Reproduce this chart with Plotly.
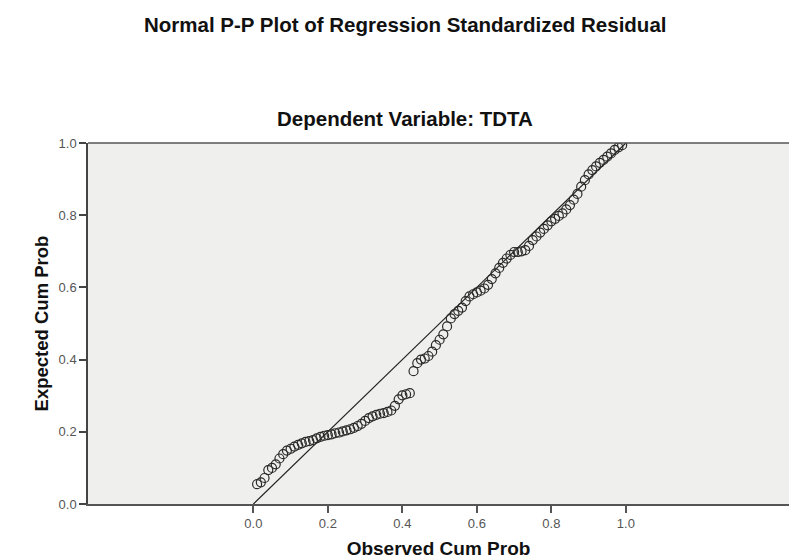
import plotly.graph_objects as go

# Observed cumulative probability (x) and expected cumulative probability (y)
observed_cum_prob = [
    0.01, 0.02, 0.03, 0.04, 0.05, 0.06, 0.07, 0.08, 0.09, 0.10,
    0.11, 0.12, 0.13, 0.14, 0.15, 0.16, 0.17, 0.18, 0.19, 0.20,
    0.21, 0.22, 0.23, 0.24, 0.25, 0.26, 0.27, 0.28, 0.29, 0.30,
    0.31, 0.32, 0.33, 0.34, 0.35, 0.36, 0.37, 0.38, 0.39, 0.40,
    0.41, 0.42, 0.43, 0.44, 0.45, 0.46, 0.47, 0.48, 0.49, 0.50,
    0.51, 0.52, 0.53, 0.54, 0.55, 0.56, 0.57, 0.58, 0.59, 0.60,
    0.61, 0.62, 0.63, 0.64, 0.65, 0.66, 0.67, 0.68, 0.69, 0.70,
    0.71, 0.72, 0.73, 0.74, 0.75, 0.76, 0.77, 0.78, 0.79, 0.80,
    0.81, 0.82, 0.83, 0.84, 0.85, 0.86, 0.87, 0.88, 0.89, 0.90,
    0.91, 0.92, 0.93, 0.94, 0.95, 0.96, 0.97, 0.98, 0.99,
]
expected_cum_prob = [
    0.055, 0.060, 0.072, 0.094, 0.100, 0.110, 0.126, 0.138, 0.148, 0.153,
    0.159, 0.164, 0.168, 0.172, 0.174, 0.177, 0.182, 0.186, 0.189, 0.191,
    0.193, 0.196, 0.198, 0.201, 0.204, 0.207, 0.211, 0.216, 0.222, 0.230,
    0.238, 0.243, 0.247, 0.250, 0.252, 0.255, 0.259, 0.272, 0.290, 0.301,
    0.304, 0.307, 0.368, 0.390, 0.400, 0.403, 0.410, 0.422, 0.440, 0.455,
    0.470, 0.492, 0.514, 0.526, 0.535, 0.544, 0.562, 0.575, 0.581, 0.586,
    0.591, 0.597, 0.607, 0.623, 0.639, 0.654, 0.668, 0.680, 0.690, 0.698,
    0.698, 0.700, 0.703, 0.715, 0.731, 0.741, 0.752, 0.762, 0.772, 0.783,
    0.790, 0.798, 0.805, 0.816, 0.828, 0.843, 0.859, 0.879, 0.897, 0.913,
    0.925, 0.935, 0.945, 0.953, 0.962, 0.971, 0.981, 0.988, 0.994,
]
reference_line_x = [0.0, 1.0]
reference_line_y = [0.0, 1.0]
tick_values = [0.0, 0.2, 0.4, 0.6, 0.8, 1.0]

FONT = "Liberation Sans, Arial, sans-serif"

fig = go.Figure()
fig.add_trace(go.Scatter(
    x=reference_line_x, y=reference_line_y, mode="lines",
    line=dict(color="#222222", width=1.2), hoverinfo="skip", showlegend=False,
))
fig.add_trace(go.Scatter(
    x=observed_cum_prob, y=expected_cum_prob, mode="markers",
    marker=dict(symbol="circle-open", size=9, color="#2a2a2a",
                line=dict(width=1.2, color="#2a2a2a")),
    showlegend=False,
))

fig.update_layout(
    width=789, height=560,
    margin=dict(l=88, r=0, t=143, b=56),
    paper_bgcolor="white",
    plot_bgcolor="#efefed",
    font=dict(family=FONT, color="#222"),
    shapes=[
        dict(type="line", xref="paper", yref="paper", x0=0, x1=1, y0=1, y1=1,
             line=dict(color="#555", width=1.5)),
    ],
    annotations=[
        dict(text="<b>Normal P-P Plot of Regression Standardized Residual</b>",
             xref="paper", yref="paper", x=0.452, y=(504 - 24) / 361,
             xanchor="center", yanchor="middle", showarrow=False,
             font=dict(size=20.5, color="#111", family=FONT)),
        dict(text="<b>Dependent Variable: TDTA</b>",
             xref="paper", yref="paper", x=0.452, y=(504 - 118) / 361,
             xanchor="center", yanchor="middle", showarrow=False,
             font=dict(size=20.5, color="#111", family=FONT)),
    ],
)
fig.update_xaxes(
    range=[-0.444, 1.438], tickvals=tick_values, tickformat=".1f",
    showgrid=False, zeroline=False, automargin=False,
    showline=True, linecolor="#555", linewidth=1.5, mirror=False,
    ticks="outside", ticklen=7, tickwidth=1.5, tickcolor="#555",
    tickfont=dict(size=13, color="#555", family=FONT),
    title=dict(text="<b>Observed Cum Prob</b>", standoff=11,
               font=dict(size=19, color="#111", family=FONT)),
)
fig.update_yaxes(
    range=[0, 1], tickvals=tick_values, tickformat=".1f",
    showgrid=False, zeroline=False, automargin=False,
    showline=True, linecolor="#444", linewidth=1.5, mirror=False,
    ticks="outside", ticklen=7, tickwidth=1.5, tickcolor="#444",
    tickfont=dict(size=13, color="#555", family=FONT),
    title=dict(text="<b>Expected Cum Prob</b>", standoff=5,
               font=dict(size=18.5, color="#111", family=FONT)),
)

fig.write_html(
    "out.html",
    config={"displayModeBar": False},
    post_script=(
        "document.body.style.margin='0px';"
        "document.body.style.overflow='hidden';"
        "document.documentElement.style.overflow='hidden';"
    ),
)
